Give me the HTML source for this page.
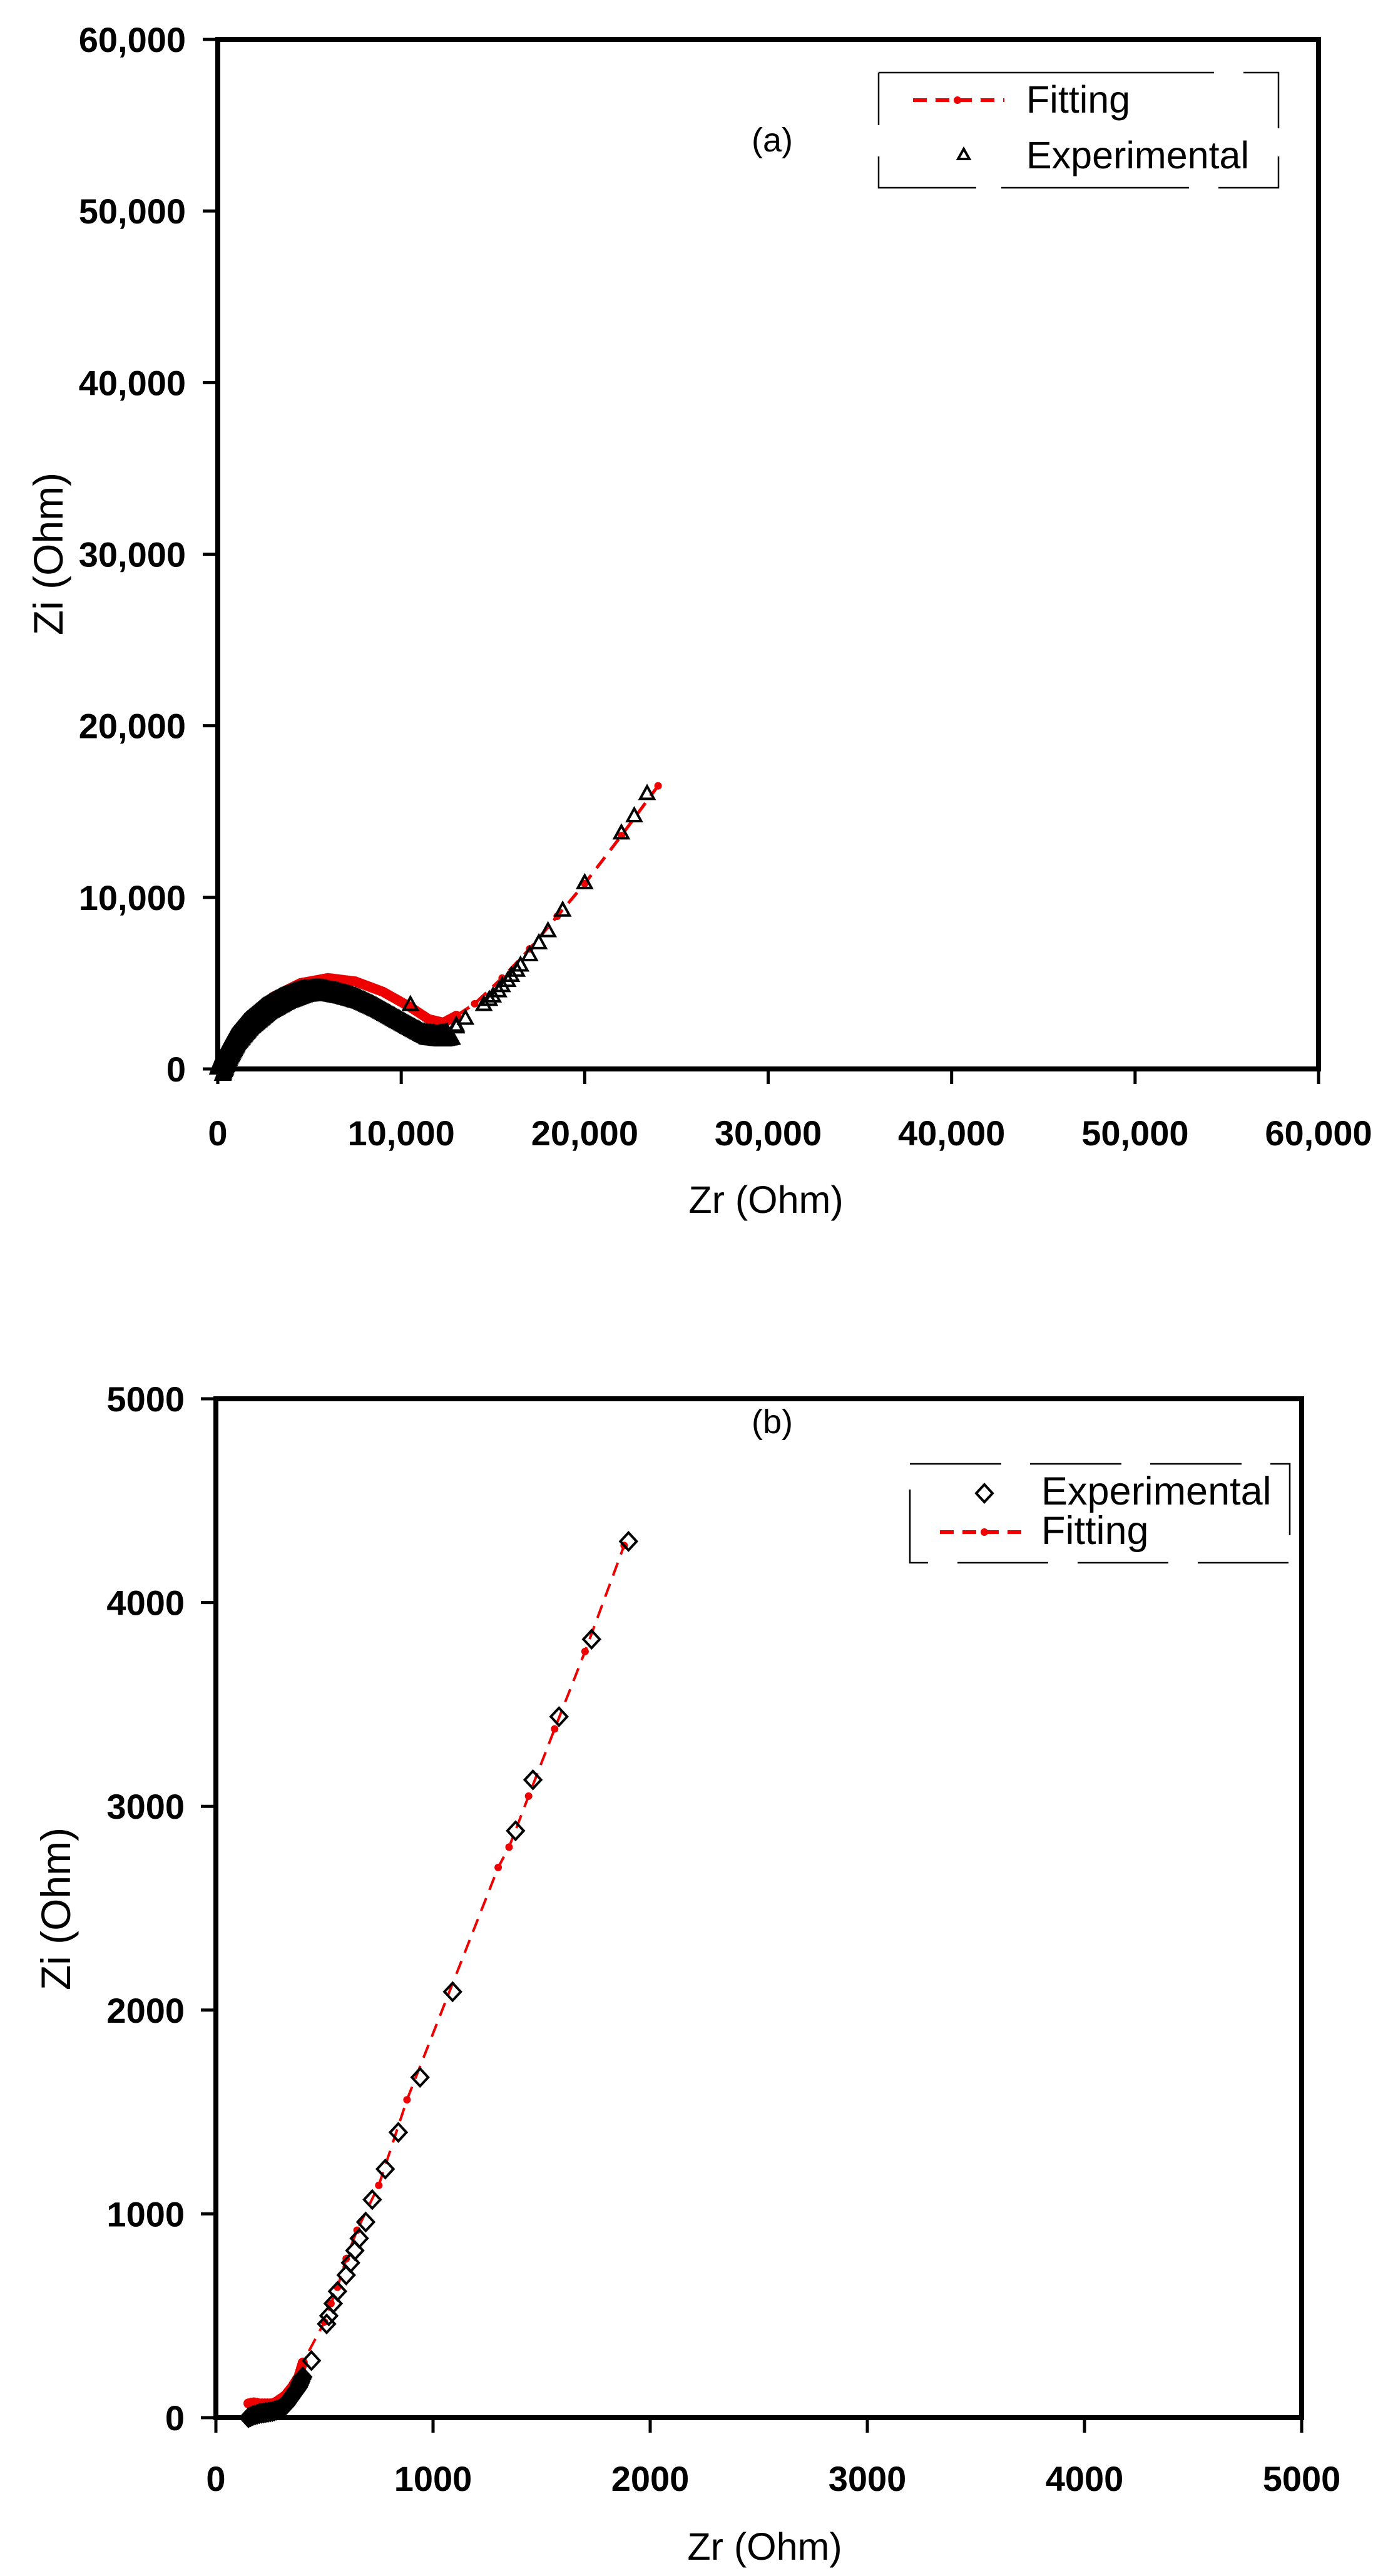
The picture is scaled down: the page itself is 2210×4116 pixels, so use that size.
<!DOCTYPE html>
<html><head><meta charset="utf-8"><style>
html,body{margin:0;padding:0;background:#fff}
svg{display:block}
text{font-family:"Liberation Sans",Arial,sans-serif;fill:#000}
.t{font-weight:bold;font-size:56px}
.ti{font-size:61px}
.tz{font-size:66px}
</style></head><body>
<svg id="s" width="2210" height="4116" viewBox="0 0 2210 4116" xmlns="http://www.w3.org/2000/svg">
<rect width="2210" height="4116" fill="#fff"/>
<rect x="348" y="63" width="1759" height="1645" fill="none" stroke="#000" stroke-width="8"/>
<g id="ta" stroke="#000" stroke-width="5"></g>
<g id="la" class="t"></g>
<text class="ti" x="1224" y="1938" text-anchor="middle">Zr (Ohm)</text>
<text class="tz" transform="translate(100,885) rotate(-90)" text-anchor="middle">Zi (Ohm)</text>
<text x="1234" y="242" font-size="54" text-anchor="middle">(a)</text>
<g stroke="#000" stroke-width="2.5" fill="none">
<path d="M1404,116 H1940 M1987,116 H2043 V205 M2043,250 V300 H1947 M1900,300 H1600 M1560,300 H1404 V250 M1404,200 V116"/>
</g>
<line x1="1459" y1="160" x2="1605" y2="160" stroke="#e00" stroke-width="6" stroke-dasharray="22,14"/>
<circle cx="1530" cy="160" r="6" fill="#e00"/>
<text x="1640" y="180" font-size="61">Fitting</text>
<path d="M1540,238 l9,16 h-18 z" fill="none" stroke="#000" stroke-width="4"/>
<text x="1640" y="269" font-size="61">Experimental</text>
<g id="da"></g>

<rect x="345" y="2235" width="1735" height="1628" fill="none" stroke="#000" stroke-width="8"/>
<g id="tb" stroke="#000" stroke-width="5"></g>
<g id="lb" class="t"></g>
<text class="ti" x="1222" y="4090" text-anchor="middle">Zr (Ohm)</text>
<text class="tz" transform="translate(112,3050) rotate(-90)" text-anchor="middle">Zi (Ohm)</text>
<text x="1234" y="2290" font-size="54" text-anchor="middle">(b)</text>
<g stroke="#000" stroke-width="2.5" fill="none">
<path d="M1454,2339 H1600 M1646,2339 H1792 M1838,2339 H1984 M2030,2339 H2061 V2453 M1454,2380 V2497 H1483 M1530,2497 H1675 M1722,2497 H1867 M1914,2497 H2059"/>
</g>
<path d="M1573,2372 l13,14 l-13,14 l-13,-14 z" fill="none" stroke="#000" stroke-width="4"/>
<text x="1664" y="2404" font-size="63">Experimental</text>
<line x1="1502" y1="2448" x2="1645" y2="2448" stroke="#e00" stroke-width="6" stroke-dasharray="22,14"/>
<circle cx="1573" cy="2448" r="6" fill="#e00"/>
<text x="1664" y="2467" font-size="63">Fitting</text>
<g id="db"></g>
</svg>
<script>
(function(){
var NS="http://www.w3.org/2000/svg";
function el(p,n,a,txt){var e=document.createElementNS(NS,n);for(var k in a)e.setAttribute(k,a[k]);if(txt!==undefined)e.textContent=txt;p.appendChild(e);return e;}
function interp(pts,step){var out=[];for(var i=0;i<pts.length-1;i++){var a=pts[i],b=pts[i+1];var dx=b[0]-a[0],dy=b[1]-a[1];var n=Math.max(1,Math.round(Math.sqrt(dx*dx+dy*dy)/step));for(var j=0;j<n;j++){out.push([a[0]+dx*j/n,a[1]+dy*j/n]);}}out.push(pts[pts.length-1]);return out;}
var ax=function(v){return 348+v*0.029317;}, ay=function(v){return 1708-v*0.027417;};
var ta=document.getElementById('ta'),la=document.getElementById('la');
for(var i=0;i<=6;i++){var v=i*10000;var lbl=i==0?"0":(i*10)+",000";
 el(ta,'line',{x1:ax(v),y1:1708,x2:ax(v),y2:1732});
 el(ta,'line',{x1:324,y1:ay(v),x2:348,y2:ay(v)});
 el(la,'text',{x:ax(v),y:1830,'text-anchor':'middle'},lbl);
 el(la,'text',{x:297,y:ay(v)+20,'text-anchor':'end'},lbl);}
var da=document.getElementById('da');
var fitArc=[[0,0],[500,1200],[1500,2800],[3000,4200],[4500,5000],[6000,5300],[7500,5100],[9000,4500],[10500,3600],[11500,2900],[12300,2700],[13000,3100]];
var fitTail=[[13000,3100],[14000,3800],[15500,5300],[17000,7000],[18500,8900],[20000,10800],[22000,13600],[24000,16500]];
var all=fitArc.concat(fitTail.slice(1));
el(da,'polyline',{points:all.map(function(p){return ax(p[0])+","+ay(p[1]);}).join(" "),fill:"none",stroke:"#e00","stroke-width":5,"stroke-dasharray":"22,14"});
interp(fitArc,120).forEach(function(p){el(da,'circle',{cx:ax(p[0]),cy:ay(p[1]),r:8,fill:"#e00"});});
fitTail.forEach(function(p){el(da,'circle',{cx:ax(p[0]),cy:ay(p[1]),r:6,fill:"#e00"});});
var expArc=[[0,0],[300,800],[800,1800],[1500,2700],[2500,3600],[3500,4200],[4500,4600],[5500,4700],[6500,4500],[7500,4200],[8500,3700],[9500,3100],[10500,2500],[11200,2100],[12000,2000],[12500,2100]];
var expTail=[[13000,2400],[13500,2900],[14500,3700],[14800,4000],[15000,4200],[15300,4500],[15500,4800],[15800,5100],[16000,5400],[16300,5700],[16500,6000],[17000,6600],[17500,7300],[18000,8000],[18800,9200],[20000,10800],[22000,13700],[22700,14700],[23400,16000]];
function tri(x,y){el(da,'path',{d:"M"+x+","+(y-13)+" l11,20 h-22 z",fill:"none",stroke:"#000","stroke-width":4});}
interp(expArc,80).forEach(function(p){tri(ax(p[0]),ay(p[1])); tri(ax(p[0])+8,ay(p[1])+10);});
expTail.forEach(function(p){tri(ax(p[0]),ay(p[1]));});
[[6000,4300],[6500,4500],[10500,3700],[13000,2500]].forEach(function(p){tri(ax(p[0]),ay(p[1]));});
var bx=function(v){return 345+v*0.347;}, by=function(v){return 3863-v*0.3256;};
var tb=document.getElementById('tb'),lb=document.getElementById('lb');
for(var i=0;i<=5;i++){var v=i*1000;var lbl=String(v);
 el(tb,'line',{x1:bx(v),y1:3863,x2:bx(v),y2:3887});
 el(tb,'line',{x1:321,y1:by(v),x2:345,y2:by(v)});
 el(lb,'text',{x:bx(v),y:3980,'text-anchor':'middle'},lbl);
 el(lb,'text',{x:295,y:by(v)+20,'text-anchor':'end'},lbl);}
var db=document.getElementById('db');
var fitB=[[150,70],[175,75],[200,70],[225,70],[250,70],[265,72],[280,80],[300,95],[320,110],[335,130],[350,150],[365,175],[380,200],[400,270],[500,470],[530,560],[560,640],[600,780],[650,920],[750,1140],[880,1560],[1300,2700],[1350,2800],[1440,3050],[1560,3380],[1700,3760],[1880,4280]];
el(db,'polyline',{points:fitB.map(function(p){return bx(p[0])+","+by(p[1]);}).join(" "),fill:"none",stroke:"#e00","stroke-width":4,"stroke-dasharray":"22,14"});
interp(fitB.slice(0,14),15).forEach(function(p){el(db,'circle',{cx:bx(p[0]),cy:by(p[1]),r:8,fill:"#e00"});});
fitB.slice(14).forEach(function(p){el(db,'circle',{cx:bx(p[0]),cy:by(p[1]),r:6,fill:"#e00"});});
var expB=[[150,0],[170,10],[200,20],[230,25],[260,30],[290,40],[320,60],[340,90],[360,120],[380,150],[400,200],[440,280],[510,460],[520,500],[540,560],[560,620],[600,700],[620,760],[640,820],[660,880],[690,960],[720,1070],[780,1220],[840,1400],[940,1670],[1090,2090],[1380,2880],[1460,3130],[1580,3440],[1730,3820],[1900,4300]];
function dia(x,y){el(db,'path',{d:"M"+x+","+(y-14)+" l13,14 l-13,14 l-13,-14 z",fill:"none",stroke:"#000","stroke-width":4});}
interp(expB.slice(0,11),10).forEach(function(p){dia(bx(p[0]),by(p[1]));});
expB.slice(11).forEach(function(p){dia(bx(p[0]),by(p[1]));});
})();
</script>
</body></html>
